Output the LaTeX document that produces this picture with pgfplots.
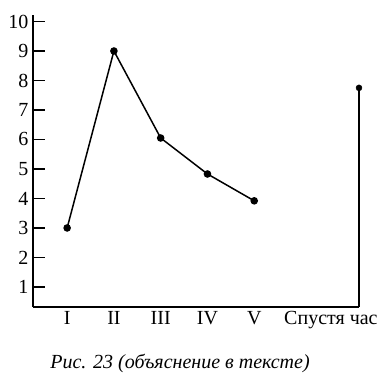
\documentclass[border=0pt]{standalone}
\usepackage{pgfplots}
\pgfplotsset{compat=1.18}
\usepackage{fontspec}
\setmainfont{Liberation Serif}
\begin{document}
\begin{tikzpicture}
\begin{axis}[
  at={(0,0)}, anchor=south west,
  scale only axis, width=326pt, height=292pt,
  xmin=0.27, xmax=7.24, ymin=0.32, ymax=10.22,
  axis x line*=bottom, axis y line*=left,
  axis line style={line width=1.5pt},
  xtick={6.64}, xticklabels={Спустя час},
  xtick style={draw=none},
  extra x ticks={1,2,3,4,5}, extra x tick labels={I,II,III,IV,V},
  extra x tick style={major tick length=5pt, tick style={line width=1.3pt, black}},
  ytick={1,...,10},
  tick align=inside,
  major tick length=12pt,
  ytick style={line width=1.3pt, black},
  tick label style={font=\fontsize{20}{22}\selectfont},
  /pgf/number format/assume math mode=true,
  xticklabel style={yshift=-1pt},
  yticklabel style={xshift=-1pt},
  clip=false,
]
\addplot[black, line width=1.5pt, mark=*, mark size=3pt] coordinates {
  (1,3) (2,9) (3,6.05) (4,4.83) (5,3.92)
};
\addplot[black, line width=1.6pt] coordinates {(7.24,0.32) (7.24,7.75)};
\addplot[black, only marks, mark=*, mark size=3pt] coordinates {(7.24,7.75)};
\end{axis}
\node at (147pt,-56pt) {\fontsize{20}{22}\selectfont\itshape Рис. 23 (объяснение в тексте)};
\useasboundingbox (-33pt,-71pt) rectangle (356pt,307pt);
\end{tikzpicture}
\end{document}
